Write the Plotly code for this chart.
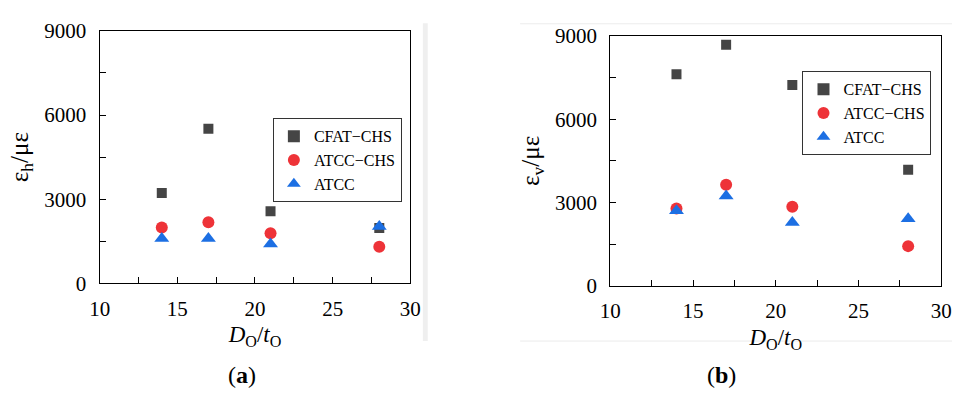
import plotly.graph_objects as go

x_vals = [14, 17, 21, 28]
# panel (a): hoop strain
a_cfat = [3220, 5510, 2570, 1970]
a_atcc_chs = [1990, 2180, 1790, 1310]
a_atcc = [1600, 1600, 1400, 2030]
# panel (b): vertical strain
b_cfat = [7620, 8680, 7230, 4180]
b_atcc_chs = [2780, 3640, 2850, 1430]
b_atcc = [2700, 3230, 2280, 2420]

names = ["CFAT\u2212CHS", "ATCC\u2212CHS", "ATCC"]
symbols = ["square", "circle", "triangle-up"]
colors = ["#454545", "#ee3338", "#1c6fe3"]
sizes = [10, 12, 13]

W, H = 963, 401
FONT = "Liberation Serif"

fig = go.Figure()

for i, ys in enumerate([a_cfat, a_atcc_chs, a_atcc]):
    fig.add_trace(go.Scatter(x=x_vals, y=ys, mode="markers", name=names[i],
                             marker=dict(symbol=symbols[i], color=colors[i], size=sizes[i]),
                             xaxis="x", yaxis="y", legend="legend"))
for i, ys in enumerate([b_cfat, b_atcc_chs, b_atcc]):
    fig.add_trace(go.Scatter(x=x_vals, y=ys, mode="markers", name=names[i],
                             marker=dict(symbol=symbols[i], color=colors[i], size=sizes[i]),
                             xaxis="x2", yaxis="y2", legend="legend2"))

def px_x(p):
    return p / W

def px_y(p):
    return 1 - p / H

def xaxis(dom, anchor):
    return dict(domain=dom, anchor=anchor, range=[10, 30], dtick=5, tick0=10,
                showline=True, linecolor="black", linewidth=1.3, mirror=True,
                ticks="inside", ticklen=6, tickcolor="black", showgrid=False, zeroline=False,
                ticklabelstandoff=6,
                minor=dict(ticks="inside", ticklen=6, dtick=2.5, tickcolor="black", showgrid=False),
                tickfont=dict(family=FONT, size=21, color="black"),
                title=dict(text="<i>D</i><sub>O</sub>/<i>t</i><sub>O</sub>",
                           font=dict(family=FONT, size=23, color="black"), standoff=6))

def yaxis(dom, anchor, label):
    return dict(domain=dom, anchor=anchor, range=[0, 9000], dtick=3000, tick0=0,
                showline=True, linecolor="black", linewidth=1.3, mirror=True,
                ticks="inside", ticklen=6, tickcolor="black", showgrid=False, zeroline=False,
                ticklabelstandoff=8,
                minor=dict(ticks="inside", ticklen=6, dtick=1500, tickcolor="black", showgrid=False),
                tickfont=dict(family=FONT, size=21, color="black"),
                title=dict(text=label, font=dict(family=FONT, size=25, color="black"), standoff=8))

legend_common = dict(bgcolor="white", bordercolor="#333333", borderwidth=1,
                     font=dict(family=FONT, size=16, color="black"),
                     xanchor="left", yanchor="top", tracegroupgap=0, itemsizing="constant")

fig.update_layout(
    width=W, height=H, margin=dict(l=0, r=0, t=0, b=0),
    paper_bgcolor="white", plot_bgcolor="white",
    font=dict(family=FONT, size=17, color="black"),
    xaxis=xaxis([px_x(90.7), px_x(408.7)], "y"),
    yaxis=yaxis([px_y(288.7), px_y(20)], "x", "ε<sub>h</sub>/με"),
    xaxis2=xaxis([px_x(613.3), px_x(952)], "y2"),
    yaxis2=yaxis([px_y(291.3), px_y(25.3)], "x2", "ε<sub>v</sub>/με"),
    legend=dict(x=px_x(268), y=px_y(113), **legend_common),
    legend2=dict(x=px_x(810), y=px_y(63), **legend_common),
    showlegend=True,
)

# light gray framing decorations
fig.add_shape(type="rect", xref="paper", yref="paper",
              x0=px_x(421.5), x1=px_x(426.5), y0=px_y(350), y1=px_y(12),
              fillcolor="#efefef", line_width=0, layer="below")
fig.add_shape(type="line", xref="paper", yref="paper",
              x0=px_x(521), x1=1, y0=px_y(12.5), y1=px_y(12.5),
              line=dict(color="#ececec", width=1))
fig.add_shape(type="line", xref="paper", yref="paper",
              x0=px_x(521), x1=1, y0=px_y(350), y1=px_y(350),
              line=dict(color="#ececec", width=1))

fig.add_annotation(text="(<b>a</b>)", xref="paper", yref="paper", x=px_x(220), y=px_y(386),
                   yanchor="middle", showarrow=False, font=dict(family=FONT, size=24, color="black"))
fig.add_annotation(text="(<b>b</b>)", xref="paper", yref="paper", x=px_x(744), y=px_y(386),
                   yanchor="middle", showarrow=False, font=dict(family=FONT, size=24, color="black"))

fig.write_html("out.html")
